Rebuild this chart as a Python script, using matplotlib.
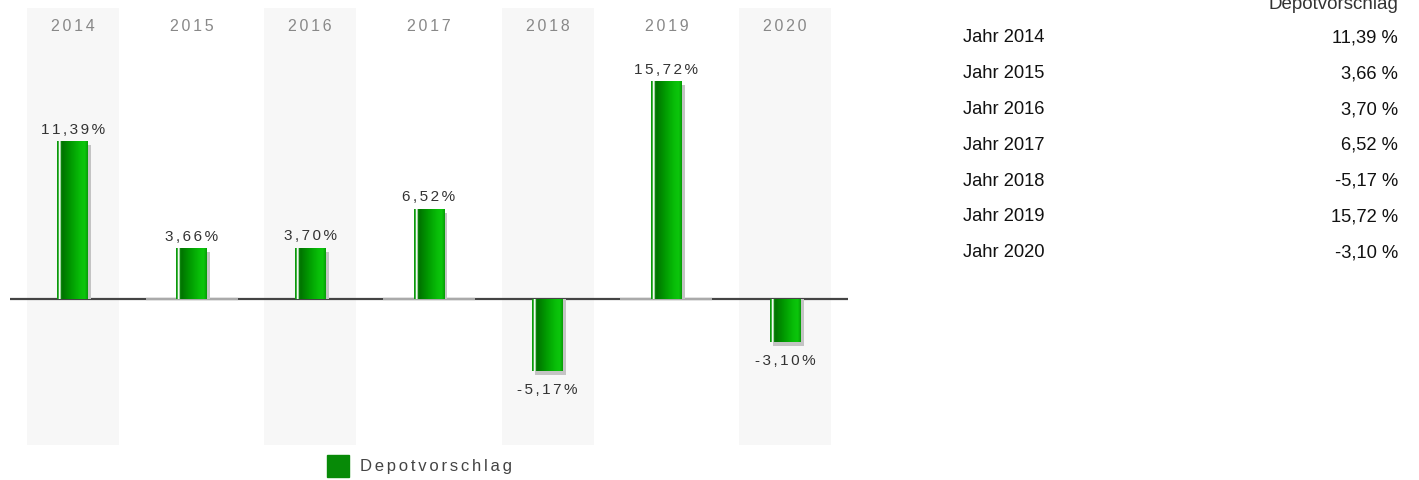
import numpy as np
import matplotlib
matplotlib.use('Agg')
import matplotlib.pyplot as plt
import matplotlib.transforms as mtransforms
from matplotlib.colors import LinearSegmentedColormap

plt.rcParams['font.family'] = ['Liberation Sans', 'DejaVu Sans']

# data
jahre = ['2014', '2015', '2016', '2017', '2018', '2019', '2020']
werte = [11.39, 3.66, 3.70, 6.52, -5.17, 15.72, -3.10]
serie = 'Depotvorschlag'


def fmt(v, sep=''):
    return ('%.2f' % v).replace('.', ',') + sep + '%'


def spaced(s):
    # letter spacing like in the original
    return '\u200a\u200a'.join(s)


fig = plt.figure(figsize=(14.19, 4.81), dpi=100)
ax = fig.add_axes([10 / 1419, 0, 838 / 1419, 1])
x = np.arange(len(jahre))
ax.set_xlim(-0.53, 6.53)
ax.set_ylim(-13.05, 21.63)
ax.axis('off')

band_w = 92 / 118.75
bar_w = 0.26

# shaded columns
for i in x:
    if i % 2 == 0:
        ax.axvspan(i - band_w / 2, i + band_w / 2, ymin=0.0728, ymax=0.981,
                   color='#f7f7f7', lw=0, zorder=0)

# zero line: dark, lighter on white columns
ax.axhline(0, color='#444444', lw=1.6, zorder=1)
for i in x:
    if i % 2 == 1:
        ax.hlines(0, i - band_w / 2, i + band_w / 2, color='#aaaaaa', lw=1.6, zorder=1.1)

# shadow (shifted right, 4px shorter at the top / longer at the bottom)
d = 4 / 13.87
shadow_tr = mtransforms.offset_copy(ax.transData, fig=fig, x=3, y=0, units='dots')
ax.bar(x, [v - d for v in werte], width=bar_w, color='#c4c4c4', lw=0, zorder=2,
       transform=shadow_tr)

# main bars with gradient
bars = ax.bar(x, werte, width=bar_w, color='#07a507', lw=0, zorder=3)
cmap = LinearSegmentedColormap.from_list(
    'g', [(0.0, '#0b9a0b'), (0.05, '#0b9a0b'), (0.06, '#ffffff'), (0.11, '#ffffff'),
          (0.12, '#0a8a0a'), (0.18, '#007400'), (0.45, '#019a01'),
          (0.75, '#08bd08'), (0.9, '#0cc60c'), (1.0, '#079c07')])
grad = np.linspace(0, 1, 300).reshape(1, -1)
for b in bars:
    bx, by = b.get_x(), b.get_y()
    bw, bh = b.get_width(), b.get_height()
    im = ax.imshow(grad, cmap=cmap, aspect='auto', zorder=4,
                   extent=(bx, bx + bw, min(by, by + bh), max(by, by + bh)),
                   interpolation='bilinear')
    im.set_clip_path(b)
ax.set_xlim(-0.53, 6.53)
ax.set_ylim(-13.05, 21.63)

# year labels
for i, j in zip(x, jahre):
    ax.text(i, 0.944, spaced(j), transform=ax.get_xaxis_transform(),
            ha='center', va='center', fontsize=11.5, color='#888888')

# value labels
for i, v in zip(x, werte):
    if v >= 0:
        ax.annotate(spaced(fmt(v)), (i, v), xytext=(0, 6), textcoords='offset points',
                    ha='center', va='baseline', fontsize=11, color='#333333')
    else:
        ax.annotate(spaced(fmt(v)), (i, v), xytext=(0, -8), textcoords='offset points',
                    ha='center', va='top', fontsize=11, color='#333333')

# legend
fig.patches.append(plt.Rectangle((327 / 1419, 3 / 481), 22 / 1419, 22 / 481,
                                 transform=fig.transFigure, color='#078a07'))
fig.text(360 / 1419, 14 / 481, spaced(serie), ha='left', va='center',
         fontsize=12, color='#444444')

# table on the right
fig.text(1398 / 1419, 1 - 9 / 481, serie, ha='right', va='baseline',
         fontsize=13.5, color='#333333')
for k, (j, v) in enumerate(zip(jahre, werte)):
    yy = 1 - (38 + k * 35.8) / 481
    fig.text(963 / 1419, yy, 'Jahr ' + j, ha='left', va='center',
             fontsize=13.2, color='#111111')
    fig.text(1398 / 1419, yy, fmt(v, ' '), ha='right', va='center',
             fontsize=13.2, color='#111111')

fig.savefig('out.png', dpi=100)
